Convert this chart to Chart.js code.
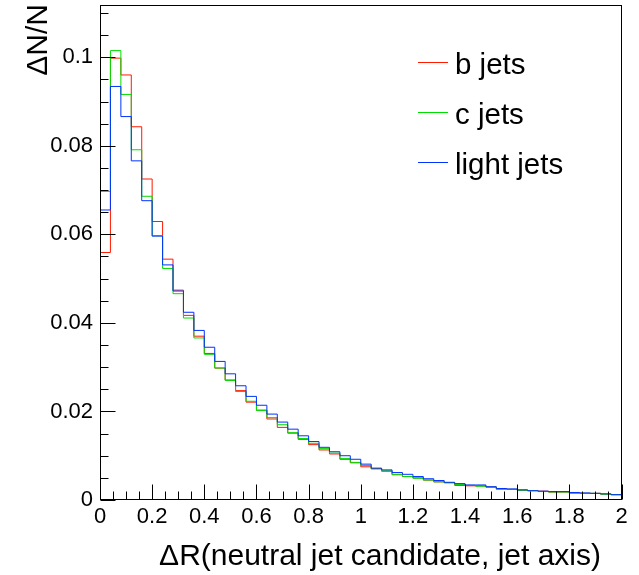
<!DOCTYPE html>
<html>
<head>
<meta charset="utf-8">
<script src="https://cdn.jsdelivr.net/npm/chart.js@4.4.0/dist/chart.umd.min.js"></script>
<style>
  html, body { margin: 0; padding: 0; background: #fff; }
</style>
</head>
<body>
<canvas id="chart" width="639" height="575"></canvas>
<script>
// histogram bins: 50 bins of 0.04 from 0 to 2
const binWidth = 0.04;

const bJets = [
  0.0559, 0.0998, 0.0960, 0.0843, 0.0725, 0.0629, 0.0544, 0.0474, 0.0417, 0.0370,
  0.0331, 0.0298, 0.0271, 0.0247, 0.0221, 0.0203, 0.0183, 0.0164, 0.0151, 0.0137,
  0.0125, 0.0113, 0.0104, 0.0092, 0.0084, 0.0075, 0.0071, 0.0065, 0.0057, 0.0053,
  0.0050, 0.0045, 0.0041, 0.0039, 0.0033, 0.0032, 0.0032, 0.0029, 0.0025, 0.0024,
  0.0022, 0.0021, 0.0020, 0.0018, 0.0018, 0.0016, 0.0015, 0.0015, 0.0013, 0.0012
];
const cJets = [
  0.0697, 0.1015, 0.0916, 0.0791, 0.0686, 0.0597, 0.0523, 0.0466, 0.0411, 0.0366,
  0.0329, 0.0298, 0.0270, 0.0245, 0.0223, 0.0202, 0.0186, 0.0170, 0.0152, 0.0139,
  0.0128, 0.0116, 0.0106, 0.0094, 0.0085, 0.0078, 0.0070, 0.0066, 0.0058, 0.0053,
  0.0049, 0.0045, 0.0041, 0.0039, 0.0035, 0.0033, 0.0031, 0.0029, 0.0024, 0.0024,
  0.0022, 0.0021, 0.0019, 0.0018, 0.0018, 0.0015, 0.0015, 0.0015, 0.0013, 0.0012
];
const lightJets = [
  0.0655, 0.0934, 0.0866, 0.0766, 0.0676, 0.0596, 0.0531, 0.0472, 0.0424, 0.0383,
  0.0345, 0.0313, 0.0285, 0.0258, 0.0234, 0.0214, 0.0194, 0.0176, 0.0160, 0.0145,
  0.0132, 0.0119, 0.0109, 0.0100, 0.0092, 0.0081, 0.0072, 0.0068, 0.0062, 0.0058,
  0.0053, 0.0048, 0.0044, 0.0040, 0.0037, 0.0034, 0.0034, 0.0030, 0.0026, 0.0025,
  0.0023, 0.0021, 0.0020, 0.0019, 0.0019, 0.0017, 0.0016, 0.0015, 0.0014, 0.0012
];

const seriesNames = ['b jets', 'c jets', 'light jets'];
const seriesColors = ['#ff1a00', '#00dd00', '#0033ff'];

const xTicks = [0, 0.2, 0.4, 0.6, 0.8, 1, 1.2, 1.4, 1.6, 1.8, 2];
const xTickLabels = ['0', '0.2', '0.4', '0.6', '0.8', '1', '1.2', '1.4', '1.6', '1.8', '2'];
const yTicks = [0, 0.02, 0.04, 0.06, 0.08, 0.1];
const yTickLabels = ['0', '0.02', '0.04', '0.06', '0.08', '0.1'];
const yMax = 0.1118;

const xTitle = 'ΔR(neutral jet candidate, jet axis)';
const yTitle = 'ΔN/N';
const font = 'Liberation Sans, Arial, sans-serif';

// step points: one per bin low edge + closing point at the last edge
function toSteps(vals) {
  const pts = vals.map((v, i) => ({ x: i * binWidth, y: v }));
  pts.push({ x: vals.length * binWidth, y: vals[vals.length - 1] });
  return pts;
}

// ROOT-like frame, inward ticks, titles and legend
const rootFrame = {
  id: 'rootFrame',
  afterDraw(chart) {
    const { ctx, chartArea: a, scales: { x, y } } = chart;
    const L = Math.round(a.left) + 0.5, R = Math.round(a.right) - 0.5;
    const T = Math.round(a.top) + 0.5, B = Math.round(a.bottom) - 0.5;
    ctx.save();
    ctx.strokeStyle = '#000';
    ctx.lineWidth = 1;
    ctx.strokeRect(L, T, R - L, B - T);

    ctx.beginPath();
    for (let k = 0; k <= 40; k++) {
      const v = k * 0.05;
      const px = Math.round(x.getPixelForValue(v)) + 0.5;
      const len = k % 4 === 0 ? 15 : 8;
      ctx.moveTo(px, B); ctx.lineTo(px, B - len);
    }
    for (let k = 0; k * 0.005 <= yMax; k++) {
      const v = k * 0.005;
      const py = Math.round(y.getPixelForValue(v)) + 0.5;
      const len = k % 4 === 0 ? 15 : 8;
      ctx.moveTo(L, py); ctx.lineTo(L + len, py);
    }
    ctx.stroke();

    ctx.fillStyle = '#000';
    ctx.font = '30px ' + font;
    ctx.textAlign = 'right';
    ctx.textBaseline = 'alphabetic';
    ctx.fillText(xTitle, 601, 565);

    ctx.save();
    ctx.translate(47, 4);
    ctx.rotate(-Math.PI / 2);
    ctx.fillText(yTitle, 0, 0);
    ctx.restore();

    ctx.font = '29.5px ' + font;
    ctx.textAlign = 'left';
    seriesNames.forEach((name, i) => {
      const ly = 62.5 + 50 * i;
      ctx.strokeStyle = seriesColors[i];
      ctx.beginPath();
      ctx.moveTo(418, ly); ctx.lineTo(448, ly);
      ctx.stroke();
      ctx.fillText(name, 455, ly + 11.6);
    });
    ctx.restore();
  }
};

const series = [bJets, cJets, lightJets];
new Chart(document.getElementById('chart'), {
  type: 'line',
  data: {
    datasets: series.map((vals, i) => ({
      label: seriesNames[i],
      data: toSteps(vals),
      stepped: 'before',
      borderColor: seriesColors[i],
      borderWidth: 1,
      pointRadius: 0,
      fill: false,
      order: 3 - i
    }))
  },
  options: {
    responsive: false,
    animation: false,
    layout: { padding: { top: 5, right: 17.5, left: 0, bottom: 0 } },
    plugins: { legend: { display: false }, tooltip: { enabled: false } },
    scales: {
      x: {
        type: 'linear',
        min: 0, max: 2,
        grid: { display: false, drawTicks: false },
        border: { display: false },
        afterBuildTicks: s => { s.ticks = xTicks.map(v => ({ value: v })); },
        afterFit: s => { s.height = 75; s.paddingLeft = 0; s.paddingRight = 0; },
        ticks: {
          autoSkip: false, maxRotation: 0, padding: 4,
          color: '#000', font: { family: font, size: 22 },
          callback: (v, i) => xTickLabels[i]
        }
      },
      y: {
        type: 'linear',
        min: 0, max: yMax,
        grid: { display: false, drawTicks: false },
        border: { display: false },
        afterBuildTicks: s => { s.ticks = yTicks.map(v => ({ value: v })); },
        afterFit: s => { s.width = 100; s.paddingTop = 0; s.paddingBottom = 0; },
        ticks: {
          autoSkip: false, padding: 7,
          color: '#000', font: { family: font, size: 22 },
          callback: (v, i) => yTickLabels[i]
        }
      }
    }
  },
  plugins: [rootFrame]
});
</script>
</body>
</html>
